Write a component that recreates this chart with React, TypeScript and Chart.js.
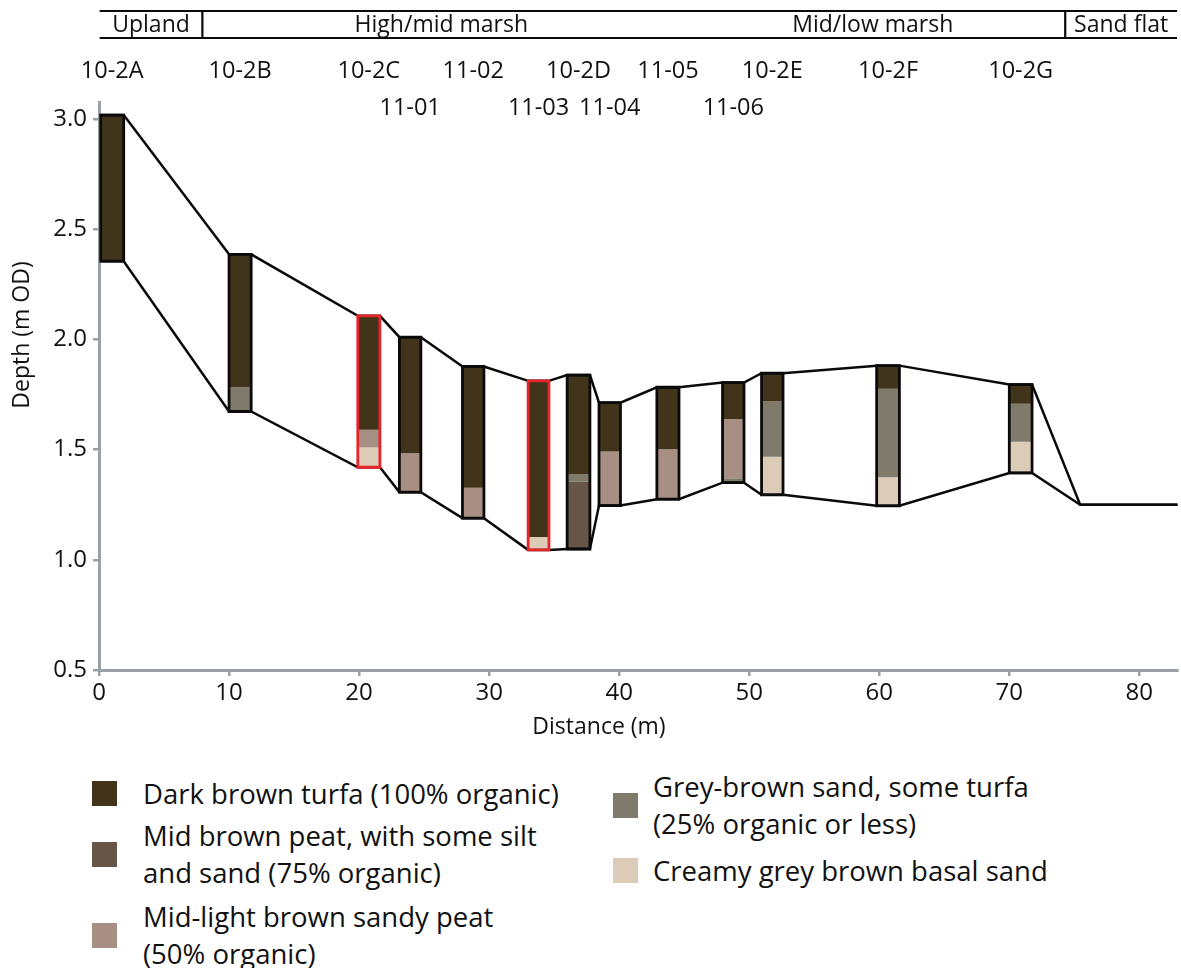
import React, { useEffect, useRef } from "react";
import { Chart, registerables } from "chart.js";

Chart.register(...registerables);

const FONT = "'Open Sans', 'DejaVu Sans', sans-serif";

// ---- Axes ----
const xTickValues = [0, 10, 20, 30, 40, 50, 60, 70, 80];
const yTickValues = [0.5, 1.0, 1.5, 2.0, 2.5, 3.0];
const xAxisMin = 0;
const xAxisMax = 82.95;
const yAxisMin = 0.5;
const yAxisMax = 3.074;
const xAxisTitle = "Distance (m)";
const yAxisTitle = "Depth (m OD)";

// ---- Zones along the transect (m) ----
const zoneNames = ["Upland", "High/mid marsh", "Mid/low marsh", "Sand flat"];
const zoneStarts = [0.05, 7.95, 44.7, 74.3];
const zoneEnds = [7.95, 44.7, 74.3, 82.9];
const zoneDividers = [7.95, 74.3];

// ---- Sediment types ----
const layerNames = [
  "Dark brown turfa (100% organic)",
  "Mid brown peat, with some silt and sand (75% organic)",
  "Mid-light brown sandy peat (50% organic)",
  "Grey-brown sand, some turfa (25% organic or less)",
  "Creamy grey brown basal sand",
];
const legendLines = [
  ["Dark brown turfa (100% organic)"],
  ["Mid brown peat, with some silt", "and sand (75% organic)"],
  ["Mid-light brown sandy peat", "(50% organic)"],
  ["Grey-brown sand, some turfa", "(25% organic or less)"],
  ["Creamy grey brown basal sand"],
];
const layerColors = ["#41341b", "#675647", "#a88f84", "#807a6b", "#dccbb7"];

// ---- Cores ----
const coreNames = ["10-2A", "10-2B", "10-2C", "11-01", "11-02", "11-03", "10-2D", "11-04", "11-05", "11-06", "10-2E", "10-2F", "10-2G"];
const coreLeft = [0.13, 10.0, 19.9, 23.1, 27.95, 33.0, 36.0, 38.45, 42.9, 47.95, 50.95, 59.8, 70.0];
const coreRight = [1.9, 11.7, 21.6, 24.75, 29.6, 34.6, 37.75, 40.1, 44.6, 49.6, 52.6, 61.55, 71.75];
// layer boundaries (m OD), top to bottom
const coreBounds = [
  [3.018, 2.355],
  [2.386, 1.783, 1.673],
  [2.107, 1.59, 1.509, 1.42],
  [2.01, 1.484, 1.307],
  [1.877, 1.327, 1.189],
  [1.812, 1.103, 1.045],
  [1.838, 1.389, 1.354, 1.049],
  [1.713, 1.491, 1.246],
  [1.783, 1.502, 1.275],
  [1.804, 1.639, 1.37, 1.35],
  [1.847, 1.72, 1.468, 1.295],
  [1.881, 1.776, 1.374, 1.245],
  [1.795, 1.708, 1.536, 1.394],
];
// sediment type index of each layer, top to bottom
const coreLayerTypes = [
  [0],
  [0, 3],
  [0, 2, 4],
  [0, 2],
  [0, 2],
  [0, 4],
  [0, 3, 1],
  [0, 2],
  [0, 2],
  [0, 2, 3],
  [0, 3, 4],
  [0, 3, 4],
  [0, 3, 4],
];
const coreHighlighted = [false, false, true, false, false, true, false, false, false, false, false, false, false];
const coreLabelRow = [0, 0, 0, 1, 0, 1, 0, 1, 0, 1, 0, 0, 0];

// sand flat surface beyond the last core
const sandFlatX = [75.45, 82.95];
const sandFlatY = [1.25, 1.25];

const AXIS_GREY = "#9aa0a8";
const LINE_BLACK = "#0a0a0a";
const HIGHLIGHT_RED = "#e8242a";
const TEXT = "#111111";

const overlayPlugin = {
  id: "profileOverlay",
  afterDraw(chart: any) {
    const ctx = chart.ctx as CanvasRenderingContext2D;
    const xs = chart.scales.x;
    ctx.save();
    // zone bar
    const zl = xs.getPixelForValue(zoneStarts[0]);
    const zr = xs.getPixelForValue(zoneEnds[zoneEnds.length - 1]);
    ctx.strokeStyle = LINE_BLACK;
    ctx.lineWidth = 2.2;
    ctx.beginPath();
    ctx.moveTo(zl, 11);
    ctx.lineTo(zr, 11);
    ctx.moveTo(zl, 38);
    ctx.lineTo(zr, 38);
    zoneDividers.forEach((d) => {
      const p = xs.getPixelForValue(d);
      ctx.moveTo(p, 11);
      ctx.lineTo(p, 38);
    });
    ctx.stroke();

    ctx.fillStyle = TEXT;
    ctx.textAlign = "center";
    ctx.textBaseline = "middle";
    ctx.font = `23px ${FONT}`;
    zoneNames.forEach((n, i) => {
      const c = (xs.getPixelForValue(zoneStarts[i]) + xs.getPixelForValue(zoneEnds[i])) / 2;
      ctx.fillText(n, c, 25);
    });

    ctx.font = `23.5px ${FONT}`;
    coreNames.forEach((n, i) => {
      const c = xs.getPixelForValue((coreLeft[i] + coreRight[i]) / 2);
      ctx.fillText(n, c, coreLabelRow[i] ? 108 : 71);
    });

    ctx.font = `23px ${FONT}`;
    ctx.fillText(xAxisTitle, 599, 727);
    ctx.translate(22, 335);
    ctx.rotate(-Math.PI / 2);
    ctx.fillText(yAxisTitle, 0, 0);
    ctx.restore();
  },
};

function buildDatasets() {
  const ds: any[] = [];
  coreNames.forEach((name, i) => {
    const l = coreLeft[i];
    const r = coreRight[i];
    const b = coreBounds[i];
    coreLayerTypes[i].forEach((t, j) => {
      ds.push({
        label: `${name} ${layerNames[t]}`,
        data: [
          { x: l, y: b[j] },
          { x: r, y: b[j] },
          { x: r, y: b[j + 1] },
          { x: l, y: b[j + 1] },
        ],
        backgroundColor: layerColors[t],
        borderColor: "rgba(0,0,0,0)",
        borderWidth: 0,
        fill: "shape",
        pointRadius: 0,
        order: 3,
      });
    });
    const top = b[0];
    const bot = b[b.length - 1];
    ds.push({
      label: `${name} outline`,
      data: [
        { x: l, y: top },
        { x: r, y: top },
        { x: r, y: bot },
        { x: l, y: bot },
        { x: l, y: top },
      ],
      borderColor: coreHighlighted[i] ? HIGHLIGHT_RED : LINE_BLACK,
      borderWidth: 2.8,
      borderCapStyle: "square",
      borderJoinStyle: "miter",
      fill: false,
      pointRadius: 0,
      order: coreHighlighted[i] ? 0 : 1,
    });
  });

  const surface: any[] = [];
  const base: any[] = [];
  coreNames.forEach((_, i) => {
    const b = coreBounds[i];
    surface.push({ x: coreLeft[i], y: b[0] }, { x: coreRight[i], y: b[0] });
    base.push({ x: coreLeft[i], y: b[b.length - 1] }, { x: coreRight[i], y: b[b.length - 1] });
  });
  sandFlatX.forEach((x, k) => {
    surface.push({ x, y: sandFlatY[k] });
    base.push({ x, y: sandFlatY[k] });
  });
  [surface, base].forEach((pts, k) => {
    ds.push({
      label: k === 0 ? "Surface" : "Base",
      data: pts,
      borderColor: LINE_BLACK,
      borderWidth: 2.5,
      borderJoinStyle: "miter",
      fill: false,
      pointRadius: 0,
      order: 2,
    });
  });
  return ds;
}

export default function App() {
  const canvasRef = useRef<HTMLCanvasElement | null>(null);

  useEffect(() => {
    if (!canvasRef.current) return;
    const chart = new Chart(canvasRef.current, {
      type: "line",
      data: { datasets: buildDatasets() },
      options: {
        responsive: false,
        animation: false,
        events: [],
        layout: { padding: { top: 102.7, right: 3.3, left: 0, bottom: 0 } },
        plugins: {
          legend: { display: false },
          tooltip: { enabled: false },
          title: { display: false },
        },
        elements: { point: { radius: 0 }, line: { tension: 0 } },
        scales: {
          x: {
            type: "linear",
            min: xAxisMin,
            max: xAxisMax,
            afterFit: (s: any) => {
              s.height = 90;
            },
            afterBuildTicks: (s: any) => {
              s.ticks = xTickValues.map((v) => ({ value: v }));
            },
            ticks: {
              color: TEXT,
              font: { family: FONT, size: 24 },
              padding: 3,
              maxRotation: 0,
              callback: (v: any) => String(v),
            },
            grid: { drawOnChartArea: false, drawTicks: true, tickLength: 6, color: AXIS_GREY, lineWidth: 2.5 },
            border: { display: true, color: AXIS_GREY, width: 3 },
          },
          y: {
            type: "linear",
            min: yAxisMin,
            max: yAxisMax,
            afterFit: (s: any) => {
              s.width = 99;
            },
            afterBuildTicks: (s: any) => {
              s.ticks = yTickValues.map((v) => ({ value: v }));
            },
            ticks: {
              color: TEXT,
              font: { family: FONT, size: 24 },
              padding: 6,
              callback: (v: any) => Number(v).toFixed(1),
            },
            grid: { drawOnChartArea: false, drawTicks: true, tickLength: 6, color: AXIS_GREY, lineWidth: 2.5 },
            border: { display: true, color: AXIS_GREY, width: 3 },
          },
        },
      } as any,
      plugins: [overlayPlugin],
    });
    return () => chart.destroy();
  }, []);

  const legendPos = [
    { col: 0, center: 793 },
    { col: 0, center: 854 },
    { col: 0, center: 935 },
    { col: 1, center: 805 },
    { col: 1, center: 870 },
  ];
  const colSquareLeft = [92, 613];
  const colTextLeft = [143, 653];
  const lineH = 37;

  return (
    <div
      style={{
        position: "absolute",
        left: 0,
        top: 0,
        width: 1181,
        height: 968,
        overflow: "hidden",
        background: "#ffffff",
        fontFamily: FONT,
        color: TEXT,
      }}
    >
      <canvas ref={canvasRef} width={1181} height={760} style={{ display: "block" }} />
      {legendLines.map((lines, i) => {
        const p = legendPos[i];
        const h = lines.length * lineH;
        return (
          <React.Fragment key={i}>
            <div
              style={{
                position: "absolute",
                left: colSquareLeft[p.col],
                top: p.center - 12.5,
                width: 25,
                height: 25,
                background: layerColors[i],
              }}
            />
            <div
              style={{
                position: "absolute",
                left: colTextLeft[p.col],
                top: p.center - h / 2,
                fontSize: 27.5,
                lineHeight: `${lineH}px`,
                whiteSpace: "nowrap",
              }}
            >
              {lines.map((t, k) => (
                <div key={k}>{t}</div>
              ))}
            </div>
          </React.Fragment>
        );
      })}
    </div>
  );
}
